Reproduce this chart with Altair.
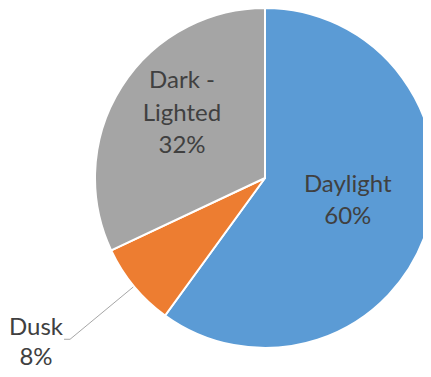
import altair as alt
import pandas as pd

categories = ["Daylight", "Dusk", "Dark - Lighted"]
values = [60, 8, 32]
label_lines = [["Daylight", "60%"], ["Dusk", "8%"], ["Dark -", "Lighted", "32%"]]
colors = ["#5B9BD5", "#ED7D31", "#A5A5A5"]

df = pd.DataFrame({
    "category": categories,
    "value": values,
    "order": list(range(len(categories))),
    "label": ["\n".join(l) for l in label_lines],
})

CX, CY, R = 257, 170, 170
FONT = "Lato"
TXT = "#404040"

base = (
    alt.Chart(df)
    .transform_joinaggregate(total="sum(value)")
    .transform_window(cum="sum(value)", sort=[alt.SortField("order")])
    .transform_calculate(mid="2*PI*(datum.cum - datum.value/2)/datum.total")
)

pie = alt.Chart(df).mark_arc(outerRadius=R, stroke="white", strokeWidth=2).encode(
    theta=alt.Theta("value:Q", stack=True),
    order=alt.Order("order:Q"),
    color=alt.Color("category:N", scale=alt.Scale(domain=categories, range=colors), legend=None),
    x=alt.value(CX),
    y=alt.value(CY),
)


def label(cat, r, dx=0, dy=0, lh=32.5):
    return (
        base.transform_filter(alt.datum.category == cat)
        .transform_calculate(
            lx=f"{CX} + {r}*sin(datum.mid)",
            ly=f"{CY} - {r}*cos(datum.mid)",
        )
        .mark_text(fontSize=24, font=FONT, color=TXT, lineBreak="\n", lineHeight=lh,
                   align="center", baseline="middle", dx=dx, dy=dy)
        .encode(x=alt.X("lx:Q", scale=None), y=alt.Y("ly:Q", scale=None), text="label:N")
    )


leader = (
    base.transform_filter(alt.datum.category == "Dusk")
    .transform_calculate(
        x1=f"{CX} + {R+1}*sin(datum.mid)",
        y1=f"{CY} - {R+1}*cos(datum.mid)",
        x2=f"{CX} + 253*sin(datum.mid)",
        y2=f"{CY} - 253*cos(datum.mid)",
    )
)
leader_diag = leader.mark_rule(color="#A6A6A6", strokeWidth=1).encode(
    x=alt.X("x1:Q", scale=None), y=alt.Y("y1:Q", scale=None),
    x2="x2:Q", y2="y2:Q",
)
leader_h = leader.transform_calculate(x3="datum.x2 - 6").mark_rule(color="#A6A6A6", strokeWidth=1).encode(
    x=alt.X("x2:Q", scale=None), y=alt.Y("y2:Q", scale=None),
    x2="x3:Q",
)

chart = alt.layer(
    pie,
    leader_diag,
    leader_h,
    label("Daylight", 87, 0, -20),
    label("Dark - Lighted", 106, 6.5, -40),
    label("Dusk", 285, -9.4, -32, 30),
).properties(
    width=415, height=361, autosize="none", padding=0, background="white"
).configure_view(stroke=None)

chart.save("out.html", embed_options={"renderer": "svg", "actions": False})
